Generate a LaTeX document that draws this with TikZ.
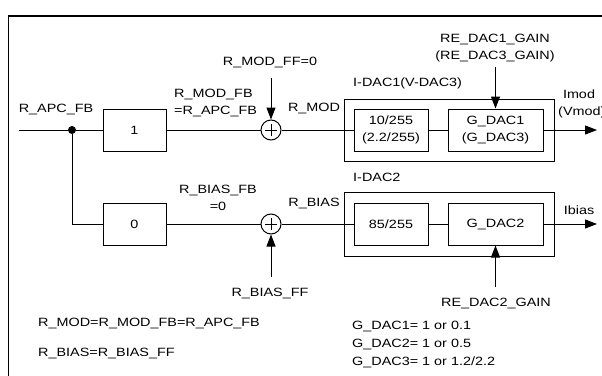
\documentclass[tikz,border=0pt]{standalone}
\usepackage{fontspec}
\setmainfont[FakeStretch=1.2]{Liberation Sans}
\usetikzlibrary{arrows.meta}
\begin{document}
\begin{tikzpicture}[x=1pt,y=-1pt,
  every node/.style={font=\fontsize{12}{17}\selectfont, inner sep=0pt},
  blk/.style={draw, line width=1pt, minimum height=42pt, align=center},
  outer/.style={draw, line width=1pt, minimum width=210pt},
  sum/.style={draw, circle, line width=1pt, minimum size=20pt,
    path picture={\draw[line width=1pt]
      ([xshift=-6pt]path picture bounding box.center) -- ([xshift=6pt]path picture bounding box.center)
      ([yshift=-6pt]path picture bounding box.center) -- ([yshift=6pt]path picture bounding box.center);}},
  wire/.style={line width=1pt},
  arr/.style={line width=1pt, -{Triangle[length=12pt,width=9pt]}},
  lbl/.style={align=center},
  lbll/.style={anchor=west, align=left}]
\useasboundingbox (0,0) rectangle (602,375);
% frame (extends beyond the crop)
\draw[line width=1.3pt] (8.5,420) |- (660,16);
% boxes
\node[outer, minimum height=62pt] (o1) at (449,130) {};
\node[outer, minimum height=64pt] (o2) at (449,224) {};
\node[blk, minimum width=63pt] (k1) at (134.5,130) {1};
\node[blk, minimum width=63pt] (k0) at (134.5,224) {0};
\node[sum] (s1) at (271,130) {};
\node[sum] (s2) at (271,224) {};
\node[blk, minimum width=74pt] (a1) at (391,130) {10/255\\(2.2/255)};
\node[blk, minimum width=95pt] (g1) at (495.5,130) {G\_DAC1\\(G\_DAC3)};
\node[blk, minimum width=74pt] (a2) at (391,224) {85/255};
\node[blk, minimum width=95pt] (g2) at (495.5,224) {G\_DAC2};
\node[circle, fill, minimum size=8pt] (dot) at (72,130) {};
% free ends
\coordinate (in) at (19,130);
\coordinate (ffm) at (271,78);
\coordinate (ffb) at (271,277);
\coordinate (gm) at (495.5,67);
\coordinate (gb) at (495.5,287);
\coordinate (om) at (597,130);
\coordinate (ob) at (597,224);
% wires
\draw[wire] (in) -- (dot) -- (k1);
\draw[wire] (dot) |- (k0);
\draw[wire] (k1) -- (s1);
\draw[wire] (k0) -- (s2);
\draw[wire] (s1) -- (a1);
\draw[wire] (a1) -- (g1);
\draw[wire] (s2) -- (a2);
\draw[wire] (a2) -- (g2);
\draw[arr] (g1) -- (om);
\draw[arr] (g2) -- (ob);
\draw[arr] (ffm) -- (s1);
\draw[arr] (ffb) -- (s2);
\draw[arr] (gm) -- (g1);
\draw[arr] (gb) -- (g2);
% labels
\node[lbl] (lapc) at (56,110) {R\_APC\_FB};
\node[lbll] (lmodfb) at (174,103) {R\_MOD\_FB\\=R\_APC\_FB};
\node[lbl] (lmodff) at (270,63) {R\_MOD\_FF=0};
\node[lbl] (lmod) at (314,109) {R\_MOD};
\node[lbll] (lidac1) at (353,83) {I-DAC1(V-DAC3)};
\node[lbl] (lre1) at (495,48) {RE\_DAC1\_GAIN\\(RE\_DAC3\_GAIN)};
\node[lbl] (limod) at (579,94) {Imod};
\node[lbll] (lvmod) at (558,112) {(Vmod)};
\node[lbl] (lbiasfb) at (218,198) {R\_BIAS\_FB\\=0};
\node[lbl] (lbias) at (314,203) {R\_BIAS};
\node[lbl] (lbiasff) at (270,293) {R\_BIAS\_FF};
\node[lbll] (lidac2) at (353,177) {I-DAC2};
\node[lbl] (lre2) at (496,303) {RE\_DAC2\_GAIN};
\node[lbl] (libias) at (579,210) {Ibias};
\node[lbll] (leq1) at (38,323) {R\_MOD=R\_MOD\_FB=R\_APC\_FB};
\node[lbll] (leq2) at (38,353) {R\_BIAS=R\_BIAS\_FF};
\node[lbll, font=\fontsize{12}{18}\selectfont] (lg) at (352,344) {G\_DAC1= 1 or 0.1\\G\_DAC2= 1 or 0.5\\G\_DAC3= 1 or 1.2/2.2};
\end{tikzpicture}
\end{document}
